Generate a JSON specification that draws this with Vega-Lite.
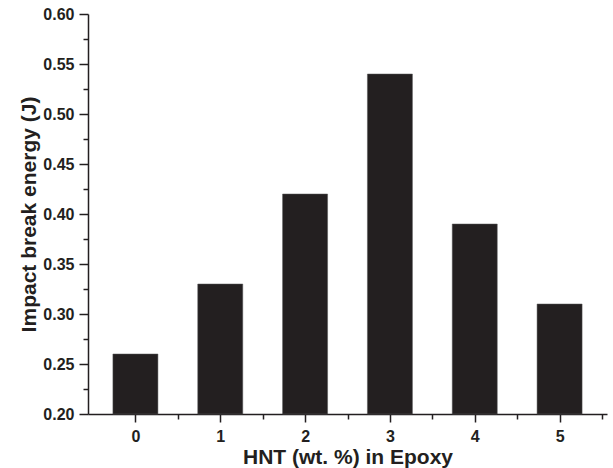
{
  "$schema": "https://vega.github.io/schema/vega-lite/v6.json",
  "width": 519,
  "height": 400,
  "autosize": "none",
  "padding": {"left": 88, "top": 14, "right": 6, "bottom": 54},
  "background": "white",
  "config": {
    "view": {"stroke": null},
    "font": "Liberation Sans",
    "axis": {
      "domainColor": "#231f20",
      "tickColor": "#231f20",
      "labelColor": "#231f20",
      "titleColor": "#231f20",
      "labelFont": "Liberation Sans",
      "titleFont": "Liberation Sans",
      "labelFontWeight": "bold",
      "titleFontWeight": "bold",
      "labelFontSize": 16,
      "titleFontSize": 21,
      "domainWidth": 1.5,
      "tickWidth": 1.5,
      "grid": false
    }
  },
  "data": {
    "values": [
      {"hnt": 0, "energy": 0.26},
      {"hnt": 1, "energy": 0.33},
      {"hnt": 2, "energy": 0.42},
      {"hnt": 3, "energy": 0.54},
      {"hnt": 4, "energy": 0.39},
      {"hnt": 5, "energy": 0.31}
    ]
  },
  "layer": [
    {
      "mark": {"type": "bar", "size": 45, "color": "#231f20", "stroke": "#555", "strokeWidth": 0.5},
      "encoding": {
        "x": {
          "field": "hnt", "type": "quantitative",
          "scale": {"domain": [-0.5, 5.5], "nice": false, "zero": false},
          "axis": {
            "orient": "bottom",
            "title": "HNT (wt. %) in Epoxy",
            "values": [0, 1, 2, 3, 4, 5],
            "tickSize": 8,
            "labelPadding": 6,
            "titlePadding": 2
          }
        },
        "y": {
          "field": "energy", "type": "quantitative",
          "scale": {"domain": [0.2, 0.6], "nice": false, "zero": false},
          "axis": {
            "orient": "left",
            "title": "Impact break energy (J)",
            "values": [0.2, 0.25, 0.3, 0.35, 0.4, 0.45, 0.5, 0.55, 0.6],
            "format": ".2f",
            "tickSize": 9,
            "labelPadding": 5,
            "titlePadding": 3
          }
        },
        "y2": {"datum": 0.2}
      }
    },
    {
      "mark": {"type": "point", "opacity": 0},
      "encoding": {
        "x": {
          "field": "hnt", "type": "quantitative",
          "scale": {"domain": [-0.5, 5.5], "nice": false, "zero": false},
          "axis": {
            "orient": "bottom",
            "title": null,
            "labels": false,
            "domain": false,
            "values": [0.5, 1.5, 2.5, 3.5, 4.5, 5.5],
            "tickSize": 5
          }
        },
        "y": {
          "field": "energy", "type": "quantitative",
          "scale": {"domain": [0.2, 0.6], "nice": false, "zero": false},
          "axis": {
            "orient": "left",
            "title": null,
            "labels": false,
            "domain": false,
            "values": [0.225, 0.275, 0.325, 0.375, 0.425, 0.475, 0.525, 0.575],
            "tickSize": 5
          }
        }
      }
    }
  ],
  "resolve": {"axis": {"x": "independent", "y": "independent"}}
}
